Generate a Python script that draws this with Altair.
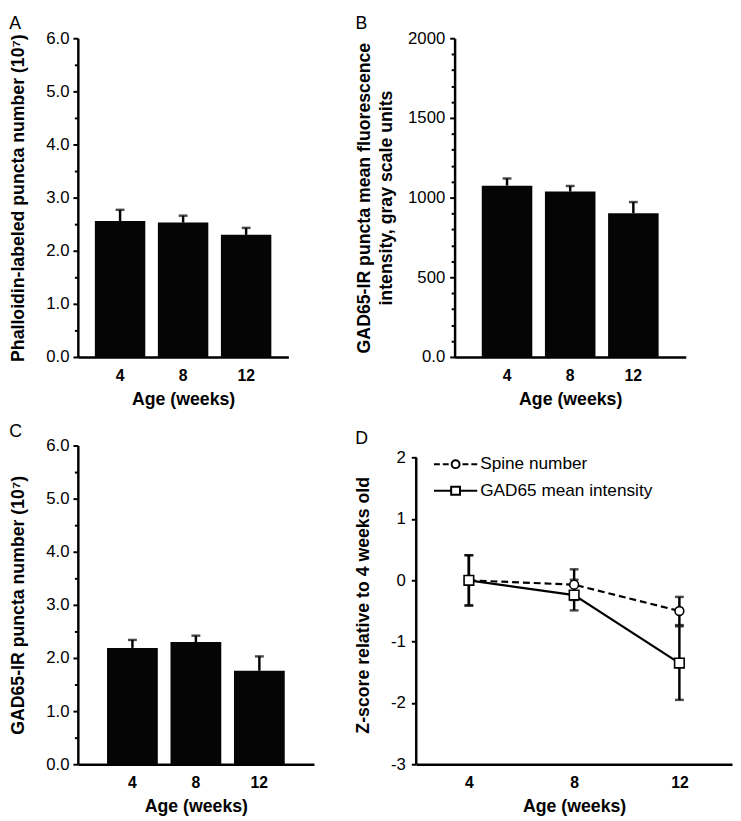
import altair as alt
import pandas as pd

FONT = "Liberation Sans"

# ---------------- data ----------------
ages = ["4", "8", "12"]
a_mean = [2.56, 2.53, 2.30]
a_err = [0.21, 0.13, 0.13]
b_mean = [1075, 1038, 902]
b_err = [45, 35, 70]
c_mean = [2.19, 2.30, 1.76]
c_err = [0.15, 0.12, 0.27]

weeks = [4, 8, 12]
series_names = ["Spine number", "GAD65 mean intensity"]
spine_mean = [0.0, -0.07, -0.50]
spine_err = [0.41, 0.25, 0.23]
gad_mean = [0.0, -0.24, -1.35]
gad_err = [0.41, 0.25, 0.60]

a_ticks = [0.0, 0.5, 1.0, 1.5, 2.0, 2.5, 3.0, 3.5, 4.0, 4.5, 5.0, 5.5, 6.0]
b_ticks = [0, 100, 200, 300, 400, 500, 600, 700, 800, 900, 1000, 1100, 1200,
           1300, 1400, 1500, 1600, 1700, 1800, 1900, 2000]
d_ticks = [-3, -2, -1, 0, 1, 2]

# legend symbols (custom paths: line sample + marker)
spine_path = ("M-1,0L-0.4,0M-0.1,0L0.5,0"
              "M0.8,0A0.4,0.4 0 1,0 1.6,0A0.4,0.4 0 1,0 0.8,0Z"
              "M1.9,0L2.5,0M2.8,0L3.4,0")
gad_path = ("M-1,0L0.75,0"
            "M0.75,-0.4L1.65,-0.4L1.65,0.4L0.75,0.4Z"
            "M1.65,0L3.4,0")


def bar_panel(letter, mean, err, ytitle, ydomain, yticks, label_expr, major_test,
              width, height, pad_outer, title_pad, label_pad, letter_offset):
    df = pd.DataFrame({"age": ages, "mean": mean, "err": err})
    df["top"] = df["mean"] + df["err"]
    xenc = alt.X("age:N", sort=ages,
                 scale=alt.Scale(paddingInner=0.2, paddingOuter=pad_outer),
                 axis=alt.Axis(title="Age (weeks)"))
    yscale = alt.Scale(domain=ydomain, nice=False, zero=True)
    yaxis = alt.Axis(title=ytitle, values=yticks, labelExpr=label_expr,
                     tickSize={"condition": {"test": major_test, "value": 5}, "value": 3.5},
                     titlePadding=title_pad, labelPadding=label_pad)
    base = alt.Chart(df)
    bars = base.mark_bar(color="#050505").encode(
        x=xenc, y=alt.Y("mean:Q", scale=yscale, axis=yaxis))
    rule = base.mark_rule(color="#000000", strokeWidth=2.5).encode(
        x=xenc, y=alt.Y("mean:Q", scale=yscale, axis=yaxis), y2="top:Q")
    cap = base.mark_tick(color="#000000", orient="horizontal", size=9, thickness=2.5).encode(
        x=xenc, y=alt.Y("top:Q", scale=yscale, axis=yaxis))
    return alt.layer(bars, rule, cap).properties(
        width=width, height=height,
        title=alt.TitleParams(letter, anchor="start", frame="bounds", offset=letter_offset))


panel_a = bar_panel("A", a_mean, a_err, "Phalloidin-labeled puncta number (10\u2077)",
                    [0, 6], a_ticks,
                    "datum.value % 1 === 0 ? format(datum.value, '.1f') : ''",
                    "datum.value % 1 === 0", 214, 324, 0.27, 19, 4, -3.5)

panel_b = bar_panel("B", b_mean, b_err,
                    ["GAD65-IR puncta mean fluorescence", "intensity, gray scale units"],
                    [0, 2000], b_ticks,
                    "datum.value === 0 ? '0.0' : (datum.value % 500 === 0 ? format(datum.value, 'd') : '')",
                    "datum.value % 500 === 0", 235, 324, 0.43, 12, 5, -3.5)

panel_c = bar_panel("C", c_mean, c_err, "GAD65-IR puncta number (10\u2077)",
                    [0, 6], a_ticks,
                    "datum.value % 1 === 0 ? format(datum.value, '.1f') : ''",
                    "datum.value % 1 === 0", 240, 324, 0.46, 19, 4, -4)

# ---------------- panel D ----------------
ddf = pd.DataFrame({
    "week": weeks + weeks,
    "series": [series_names[0]] * 3 + [series_names[1]] * 3,
    "mean": spine_mean + gad_mean,
    "err": spine_err + gad_err,
})
ddf["lo"] = ddf["mean"] - ddf["err"]
ddf["hi"] = ddf["mean"] + ddf["err"]

d_xscale = alt.Scale(domain=[2, 14], nice=False, zero=False)
d_yscale = alt.Scale(domain=[-3, 2.2], nice=False, zero=False)
d_xaxis = alt.Axis(title="Age (weeks)", values=weeks)
d_yaxis = alt.Axis(title="Z-score relative to 4 weeks old", values=d_ticks,
                   labelExpr="'' + datum.value", domain=False, tickSize=5,
                   labelPadding=6, titlePadding=18)
dx = alt.X("week:Q", scale=d_xscale, axis=d_xaxis)

dbase = alt.Chart(ddf)
axis_df = pd.DataFrame({"week": [d_xscale.domain[0]], "lo": [d_ticks[0]], "hi": [d_ticks[-1]]})
yline = alt.Chart(axis_df).mark_rule(color="black", strokeWidth=2.5).encode(
    x=dx, y=alt.Y("lo:Q", scale=d_yscale, axis=d_yaxis), y2="hi:Q")

err_rule = dbase.mark_rule(color="black", strokeWidth=2.5).encode(
    x=dx, y=alt.Y("lo:Q", scale=d_yscale, axis=d_yaxis), y2="hi:Q")
cap_lo = dbase.mark_tick(color="black", orient="horizontal", size=9, thickness=2.5).encode(
    x=dx, y=alt.Y("lo:Q", scale=d_yscale, axis=d_yaxis))
cap_hi = dbase.mark_tick(color="black", orient="horizontal", size=9, thickness=2.5).encode(
    x=dx, y=alt.Y("hi:Q", scale=d_yscale, axis=d_yaxis))

spine_line = dbase.transform_filter(alt.datum.series == series_names[0]).mark_line(
    color="black", strokeWidth=2.2, strokeDash=[7, 4]).encode(
    x=dx, y=alt.Y("mean:Q", scale=d_yscale, axis=d_yaxis))
gad_line = dbase.transform_filter(alt.datum.series == series_names[1]).mark_line(
    color="black", strokeWidth=2.2).encode(
    x=dx, y=alt.Y("mean:Q", scale=d_yscale, axis=d_yaxis))
spine_pts = dbase.transform_filter(alt.datum.series == series_names[0]).mark_point(
    shape="circle", filled=True, fill="white", stroke="black", strokeWidth=1.6, size=80,
    opacity=1).encode(x=dx, y=alt.Y("mean:Q", scale=d_yscale, axis=d_yaxis))
gad_pts = dbase.transform_filter(alt.datum.series == series_names[1]).mark_point(
    shape="square", filled=True, fill="white", stroke="black", strokeWidth=1.6, size=95,
    opacity=1).encode(x=dx, y=alt.Y("mean:Q", scale=d_yscale, axis=d_yaxis))

leg_df = pd.DataFrame({"series": series_names})
legend_layer = alt.Chart(leg_df).mark_point(
    filled=False, color="black", strokeWidth=2, opacity=0).encode(
    shape=alt.Shape("series:N", sort=series_names,
                    scale=alt.Scale(domain=series_names, range=[spine_path, gad_path]),
                    legend=alt.Legend(title=None, orient="none", legendX=17, legendY=8,
                                      symbolSize=400, symbolStrokeWidth=2,
                                      symbolStrokeColor="black", symbolFillColor="white",
                                      symbolOpacity=1, labelFontSize=17.5, labelFont=FONT,
                                      labelColor="black", labelOffset=26, rowPadding=7,
                                      labelLimit=0)),
    x=alt.value(0), y=alt.value(0))

panel_d = alt.layer(yline, err_rule, cap_lo, cap_hi, spine_line, gad_line,
                    spine_pts, gad_pts, legend_layer).properties(
    width=321, height=324,
    title=alt.TitleParams("D", anchor="start", frame="bounds", offset=-4))

row1 = alt.hconcat(panel_a, panel_b, spacing=66)
row2 = alt.hconcat(panel_c, panel_d, spacing=40).resolve_scale(
    shape="independent").resolve_legend(shape="independent")

chart = alt.vconcat(row1, row2, spacing=13, padding=0).resolve_scale(
    shape="independent").resolve_legend(shape="independent").configure_view(
    stroke="transparent"
).configure_axis(
    domainColor="black", domainWidth=2.5, tickColor="black", tickWidth=2,
    labelColor="black", titleColor="black", labelFont=FONT, titleFont=FONT,
    labelFontSize=17, titleFontSize=18, titleFontWeight="bold", grid=False,
    titleLineHeight=23
).configure_axisX(
    labelFontWeight="bold", labelFontSize=16, ticks=False, labelPadding=11,
    titlePadding=7, labelAngle=0
).configure_title(
    font=FONT, fontSize=18, fontWeight="normal", color="black"
)

chart.save("out.html", embed_options={"renderer": "svg", "actions": False})
